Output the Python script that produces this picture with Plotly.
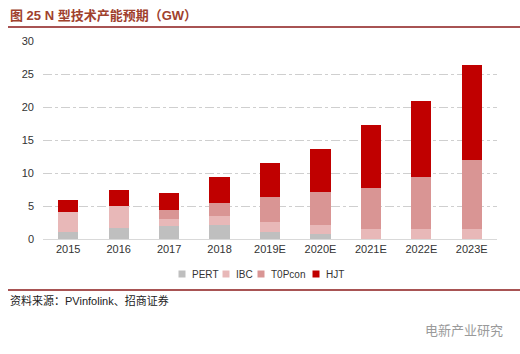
import plotly.graph_objects as go

years = ["2015", "2016", "2017", "2018", "2019E", "2020E", "2021E", "2022E", "2023E"]
pert = [1.05, 1.7, 1.9, 2.05, 1.05, 0.7, 0, 0, 0]
ibc = [3.05, 3.35, 1.2, 1.45, 1.55, 1.45, 1.55, 1.55, 1.55]
topcon = [0, 0, 1.25, 1.95, 3.8, 4.95, 6.2, 7.9, 10.4]
hjt = [1.8, 2.4, 2.55, 3.9, 5.1, 6.6, 9.5, 11.4, 14.4]
y_ticks = [0, 5, 10, 15, 20, 25, 30]

series = [("PERT", pert, "#bfbfbf"), ("IBC", ibc, "#e8b8b8"),
          ("T0Pcon", topcon, "#d99594"), ("HJT", hjt, "#c00000")]

fig = go.Figure()
for name, vals, col in series:
    fig.add_trace(go.Bar(x=years, y=vals, name=name, marker=dict(color=col, line=dict(width=0))))

FONT = "Liberation Sans, Noto Sans CJK SC"
fig.update_layout(
    barmode="stack", bargap=0.6,
    width=520, height=354,
    margin=dict(l=43, r=23, t=41, b=115),
    paper_bgcolor="white", plot_bgcolor="white",
    font=dict(family=FONT, size=11, color="#333333"),
    showlegend=False,
    xaxis=dict(showline=True, linecolor="#d9d9d9", linewidth=1, ticks="",
               tickfont=dict(size=11, color="#333333")),
    yaxis=dict(range=[0, 30], tickvals=y_ticks, showgrid=True, gridcolor="#cfcfcf",
               griddash="dashdot", gridwidth=1, zeroline=False, ticks="",
               tickfont=dict(size=11, color="#333333"), ticklabelstandoff=8),
)

def px_x(px):
    return (px - 43) / 454
def px_y(py):
    return (239 - py) / 198

# legend drawn manually (compact, as in the reference)
leg_pos = [(182.0, 189.5), (226.0, 233.5), (261.0, 268.5), (316.0, 323.5)]
ly = 274
for (name, vals, col), (sx, tx) in zip(series, leg_pos):
    fig.add_shape(type="rect", xref="paper", yref="paper",
                  x0=px_x(sx - 3.5), x1=px_x(sx + 3.5), y0=px_y(ly + 3.5), y1=px_y(ly - 3.5),
                  fillcolor=col, line=dict(width=0))
    fig.add_annotation(text=name, xref="paper", yref="paper", x=px_x(tx), y=px_y(ly),
                       xanchor="left", yanchor="middle", showarrow=False,
                       font=dict(size=10, color="#333333", family=FONT))

fig.add_annotation(text="<b>图 25 N 型技术产能预期（GW）</b>", xref="paper", yref="paper",
                   x=px_x(8), y=px_y(15), xanchor="left", yanchor="middle", showarrow=False,
                   font=dict(size=13, color="#a0412d", family=FONT))
fig.add_annotation(text="资料来源：PVinfolink、招商证券", xref="paper", yref="paper",
                   x=px_x(8), y=px_y(300), xanchor="left", yanchor="middle", showarrow=False,
                   font=dict(size=11, color="#222222", family=FONT))
fig.add_annotation(text="电新产业研究", xref="paper", yref="paper",
                   x=px_x(505), y=px_y(329), xanchor="right", yanchor="middle", showarrow=False,
                   font=dict(size=13, color="#9a9a9a", family="Noto Sans CJK SC"))

fig.add_shape(type="line", xref="paper", yref="paper", x0=px_x(8), x1=px_x(520),
              y0=px_y(27), y1=px_y(27), line=dict(color="#8b1a1a", width=1.5))
fig.add_shape(type="line", xref="paper", yref="paper", x0=px_x(8), x1=px_x(520),
              y0=px_y(290), y1=px_y(290), line=dict(color="#8b1a1a", width=1.5))

fig.write_html("out.html")
